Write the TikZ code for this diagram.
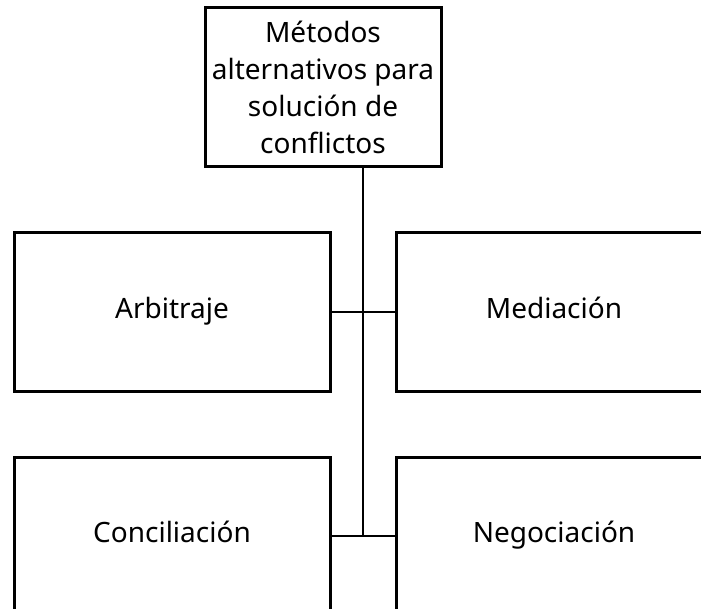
\documentclass[tikz,border=0pt]{standalone}
\usepackage{fontspec}
\setmainfont{Noto Sans}
\usepackage{tikz}

\begin{document}
\begin{tikzpicture}[x=1pt,y=-1pt]
      \tikzstyle{caja}=[draw, line width=3pt, fill=white, text=black, align=center, inner sep=0pt, font=\fontsize{28}{37}\selectfont]
      \tikzstyle{cajahoja}=[caja, minimum width=316pt, minimum height=158pt, text height=20pt, text depth=7pt]
      \tikzstyle{linea}=[line width=2.8pt]

      \clip (0,0) rectangle (701,609);
      \fill[white] (0,0) rectangle (701,609);

      \node[caja, minimum width=236pt, minimum height=159pt] (Met) at (323,87.5) {Métodos\\alternativos para\\solución de\\conflictos};
      \node[cajahoja] (Arb) at (172,312) {Arbitraje};
      \node[cajahoja] (Med) at (554,312) {Mediación};
      \node[cajahoja] (Con) at (172,536) {Conciliación};
      \node[cajahoja] (Neg) at (554,536) {Negociación};
      \coordinate (Tronco) at (363,536);
      \draw[linea] (Tronco |- Met.south)--(Tronco);
      \draw[linea] (Arb.east)--(Med.west);
      \draw[linea] (Con.east)--(Neg.west);

    \end{tikzpicture}
\end{document}
